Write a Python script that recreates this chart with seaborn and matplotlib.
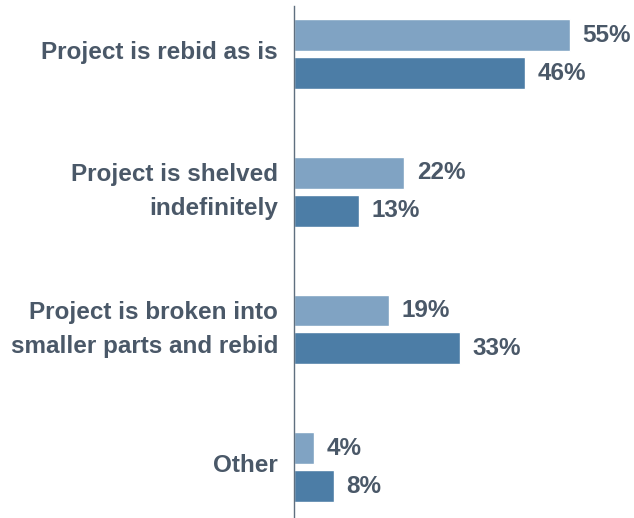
import matplotlib
matplotlib.use("Agg")
import matplotlib.pyplot as plt
import matplotlib.transforms as mtransforms
import seaborn as sns
import pandas as pd

sns.set_theme(style="white")
plt.rcParams["font.family"] = ["Liberation Sans", "DejaVu Sans"]
plt.rcParams["font.weight"] = "bold"

categories = [
    "Project is rebid as is",
    "Project is shelved\nindefinitely",
    "Project is broken into\nsmaller parts and rebid",
    "Other",
]
series = ["Series A", "Series B"]
values_a = [55, 22, 19, 4]
values_b = [46, 13, 33, 8]

df = pd.DataFrame({
    "category": categories * 2,
    "series": [series[0]] * 4 + [series[1]] * 4,
    "value": values_a + values_b,
})

text_color = "#4a5868"
palette = {series[0]: "#80a3c3", series[1]: "#4c7da6"}

fig = plt.figure(figsize=(6.34, 5.18), dpi=100)
ax = fig.add_axes([294 / 634, 0.0, 340 / 634, 1 - 6 / 518])

sns.barplot(data=df, y="category", x="value", hue="series", order=categories,
            hue_order=series, palette=palette, orient="h", width=0.551, gap=0.158,
            legend=False, saturation=1, ax=ax)

ax.set_xlim(0, 340 / 5.02)
ax.set_ylim(3.37, -0.35)

for container in ax.containers:
    ax.bar_label(container, labels=[f"{v:.0f}%" for v in container.datavalues],
                 padding=9, fontsize=17.5, fontweight="bold", color=text_color)

ax.set_xlabel("")
ax.set_ylabel("")
ax.set_xticks([])
ax.tick_params(axis="y", length=0, pad=11.5, labelsize=17.5, labelcolor=text_color)
for lbl in ax.get_yticklabels():
    lbl.set_fontweight("bold")
    lbl.set_linespacing(1.6)
    shift = 8 if "\n" in lbl.get_text() else 4
    lbl.set_transform(lbl.get_transform() +
                      mtransforms.ScaledTranslation(0, shift / 100, fig.dpi_scale_trans))

for side in ["top", "right", "bottom"]:
    ax.spines[side].set_visible(False)
ax.spines["left"].set_color("#5f6f7f")
ax.spines["left"].set_linewidth(1.0)

fig.savefig("out.png", dpi=100)
